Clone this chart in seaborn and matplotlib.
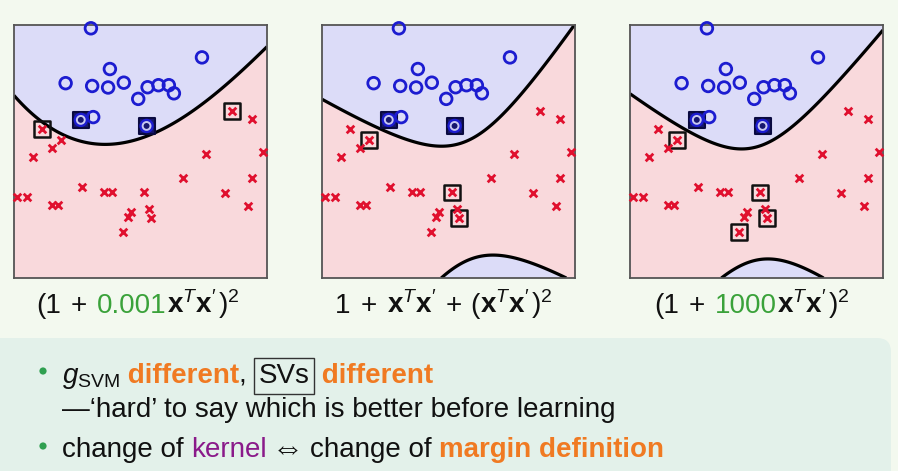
import numpy as np
import pandas as pd
import matplotlib
matplotlib.use("Agg")
import matplotlib.pyplot as plt
import seaborn as sns
from matplotlib.patches import FancyBboxPatch, Circle
from matplotlib.transforms import IdentityTransform

# ---------------- data (unit square per panel) ----------------
blue_x = [0.304, 0.743, 0.379, 0.204, 0.309, 0.372, 0.434, 0.528, 0.571, 0.612, 0.632, 0.491, 0.313, 0.264, 0.524]
blue_y = [0.987, 0.872, 0.826, 0.770, 0.759, 0.753, 0.772, 0.754, 0.762, 0.762, 0.730, 0.708, 0.636, 0.625, 0.601]

red_x = [0.112, 0.862, 0.941, 0.186, 0.149, 0.074, 0.758, 0.984, 0.668, 0.941, 0.267, 0.357, 0.389,
         0.514, 0.833, 0.011, 0.053, 0.149, 0.175, 0.925, 0.532, 0.461, 0.449, 0.543, 0.432]
red_y = [0.588, 0.661, 0.629, 0.546, 0.513, 0.480, 0.491, 0.500, 0.397, 0.397, 0.359, 0.339, 0.339,
         0.338, 0.336, 0.320, 0.320, 0.287, 0.287, 0.283, 0.272, 0.261, 0.243, 0.237, 0.182]

# support vectors per panel (indices into the blue / red lists)
sv_blue = [[13, 14], [13, 14], [13, 14]]
sv_red = [[0, 1], [3, 13, 23], [3, 13, 23, 24]]

# decision boundary points
bnd_x = [
    [0.0, 0.208, 0.339, 0.432, 0.537, 0.734, 0.866, 1.0],
    [0.0, 0.149, 0.280, 0.386, 0.491, 0.570, 0.675, 0.807, 1.0, 0.484, 0.570, 0.675, 0.793, 0.971],
    [0.0, 0.157, 0.288, 0.446, 0.550, 0.682, 0.813, 1.0, 0.377, 0.485, 0.557, 0.642, 0.767],
]
bnd_y = [
    [0.717, 0.572, 0.533, 0.530, 0.546, 0.691, 0.796, 0.908],
    [0.704, 0.638, 0.566, 0.520, 0.504, 0.526, 0.612, 0.783, 0.993, 0.0, 0.072, 0.092, 0.066, 0.0],
    [0.730, 0.623, 0.544, 0.498, 0.524, 0.636, 0.793, 0.970, 0.0, 0.066, 0.081, 0.059, 0.0],
]
bnd_model = ["curve", "conic", "conic"]

# ---------------- style ----------------
BG = "#f3f9ef"
BOX = "#e3f1ea"
C_BLUE_REG = "#dcdcf8"
C_RED_REG = "#f9d9dc"
C_CIRCLE = "#1c1cd0"
C_CROSS = "#e0102e"
ORANGE = "#f07a22"
GREEN = "#3aa23a"
PURPLE = "#8a1a8a"

sns.set_theme(style="white")
plt.rcParams["font.family"] = ["Liberation Sans", "DejaVu Sans"]
plt.rcParams["mathtext.fontset"] = "custom"
plt.rcParams["mathtext.rm"] = "Liberation Sans"
plt.rcParams["mathtext.it"] = "Liberation Sans:italic"
plt.rcParams["mathtext.bf"] = "Liberation Sans:bold"
plt.rcParams["mathtext.sf"] = "Liberation Sans"

W, H = 898, 471
fig = plt.figure(figsize=(W / 100, H / 100), dpi=100)
fig.patch.set_facecolor(BG)

# teal lower box
box = FancyBboxPatch((-20, -30), W + 13, (H - 338) + 30,
                     boxstyle="round,pad=0,rounding_size=14",
                     transform=IdentityTransform(), fc=BOX, ec="none", zorder=0)
fig.add_artist(box)

blue_df = pd.DataFrame({"x": blue_x, "y": blue_y})
red_df = pd.DataFrame({"x": red_x, "y": red_y})

lefts = [14, 322, 630]
gx, gy = np.meshgrid(np.linspace(0, 1, 400), np.linspace(0, 1, 400))


def boundary_field(px, py, model):
    px = np.asarray(px); py = np.asarray(py)
    if model == "curve":
        p = np.polyfit(px, py, 3)
        return gy - np.polyval(p, gx)
    A = np.column_stack([np.ones_like(px), px, py, px ** 2, px * py, py ** 2])
    _, _, vt = np.linalg.svd(A)
    c = vt[-1]
    f = lambda x, y: c[0] + c[1] * x + c[2] * y + c[3] * x ** 2 + c[4] * x * y + c[5] * y ** 2
    F = f(gx, gy)
    if f(0.3, 0.95) < 0:
        F = -F
    return F


for i in range(3):
    ax = fig.add_axes([lefts[i] / W, 1 - 278 / H, 253 / W, 253 / H])
    F = boundary_field(bnd_x[i], bnd_y[i], bnd_model[i])
    ax.contourf(gx, gy, F, levels=[-1e9, 0, 1e9], colors=[C_RED_REG, C_BLUE_REG], zorder=0)
    ax.contour(gx, gy, F, levels=[0], colors="black", linewidths=2.3, zorder=1)

    # support-vector squares
    rs = red_df.iloc[sv_red[i]]
    sns.scatterplot(data=rs, x="x", y="y", ax=ax, marker="s", s=130, color="black",
                    facecolor="none", edgecolor="#111111", linewidth=1.8, zorder=3, clip_on=False)
    bs = blue_df.iloc[sv_blue[i]]
    sns.scatterplot(data=bs, x="x", y="y", ax=ax, marker="s", s=130, color="#16166e",
                    facecolor="#16166e", edgecolor="#0a0a40", linewidth=1.5, zorder=3, clip_on=False)

    sns.scatterplot(data=blue_df, x="x", y="y", ax=ax, marker="o", s=70, color=C_CIRCLE,
                    facecolor="none", edgecolor=C_CIRCLE, linewidth=2.0, zorder=4, clip_on=False)
    sns.scatterplot(data=bs, x="x", y="y", ax=ax, marker="o", s=32, color="#c8c8f2",
                    facecolor="none", edgecolor="#c8c8f2", linewidth=1.4, zorder=5, clip_on=False)
    sns.scatterplot(data=red_df, x="x", y="y", ax=ax, marker="x", s=30, color=C_CROSS,
                    linewidth=2.0, zorder=4, clip_on=False)

    ax.set_xlim(0, 1)
    ax.set_ylim(0, 1)
    ax.set_xticks([])
    ax.set_yticks([])
    ax.set_xlabel("")
    ax.set_ylabel("")
    for sp in ax.spines.values():
        sp.set_visible(True)
        sp.set_color("#555555")
        sp.set_linewidth(1.3)

# ---------------- text ----------------
FS = 20
FF = 20
renderer = fig.canvas.get_renderer()


def row(x, y, pieces, fs):
    for s, kw in pieces:
        kw = dict(kw)
        pre = kw.pop("pre", 0)
        post = kw.pop("post", 0)
        x += pre
        t = fig.text(x / W, 1 - y / H, s, va="baseline", ha="left", fontsize=kw.pop("fontsize", fs), **kw)
        bb = t.get_window_extent(renderer)
        x = bb.x1 + post
    return x


K = "#111111"
xx = r"$\mathbf{x}^{T}\mathbf{x}^{\prime}$"
row(36, 313, [("(1", {"color": K}), ("+", {"color": K, "pre": 10, "post": 10}),
              ("0.001", {"color": GREEN}), (xx, {"color": K, "post": 2}),
              (r"$)^{2}$", {"color": K})], FF)
row(335, 313, [("1", {"color": K}), ("+", {"color": K, "pre": 10, "post": 10}),
               (xx, {"color": K, "post": 2}), ("+", {"color": K, "pre": 8, "post": 8}),
               ("(", {"color": K}), (xx, {"color": K, "post": 2}),
               (r"$)^{2}$", {"color": K})], FF)
row(654, 313, [("(1", {"color": K}), ("+", {"color": K, "pre": 10, "post": 10}),
               ("1000", {"color": GREEN}), (xx, {"color": K, "post": 2}),
               (r"$)^{2}$", {"color": K})], FF)

for yb in (371, 446):
    fig.add_artist(Circle((43, H - yb), 3.6, transform=IdentityTransform(), fc="#2fa050", ec="none"))

row(62, 383, [(r"$g_{\mathrm{SVM}}$", {"color": K}),
              (" different", {"color": ORANGE, "fontweight": "bold"}),
              (", ", {"color": K}),
              ("SVs", {"color": K, "pre": 4, "post": 5,
                       "bbox": dict(boxstyle="square,pad=0.18", fc="none", ec="#333333", lw=1.0)}),
              (" different", {"color": ORANGE, "fontweight": "bold"})], FS)
row(62, 417, [("\u2014\u2018hard\u2019 to say which is better before learning", {"color": K})], FS)
row(62, 457, [("change of ", {"color": K}), ("kernel", {"color": PURPLE}),
              ("\u21d4", {"color": K, "pre": 5, "post": 6, "fontsize": FS + 3}),
              ("change of ", {"color": K}),
              ("margin definition", {"color": ORANGE, "fontweight": "bold"})], FS)

fig.savefig("out.png", dpi=100, facecolor=BG)
